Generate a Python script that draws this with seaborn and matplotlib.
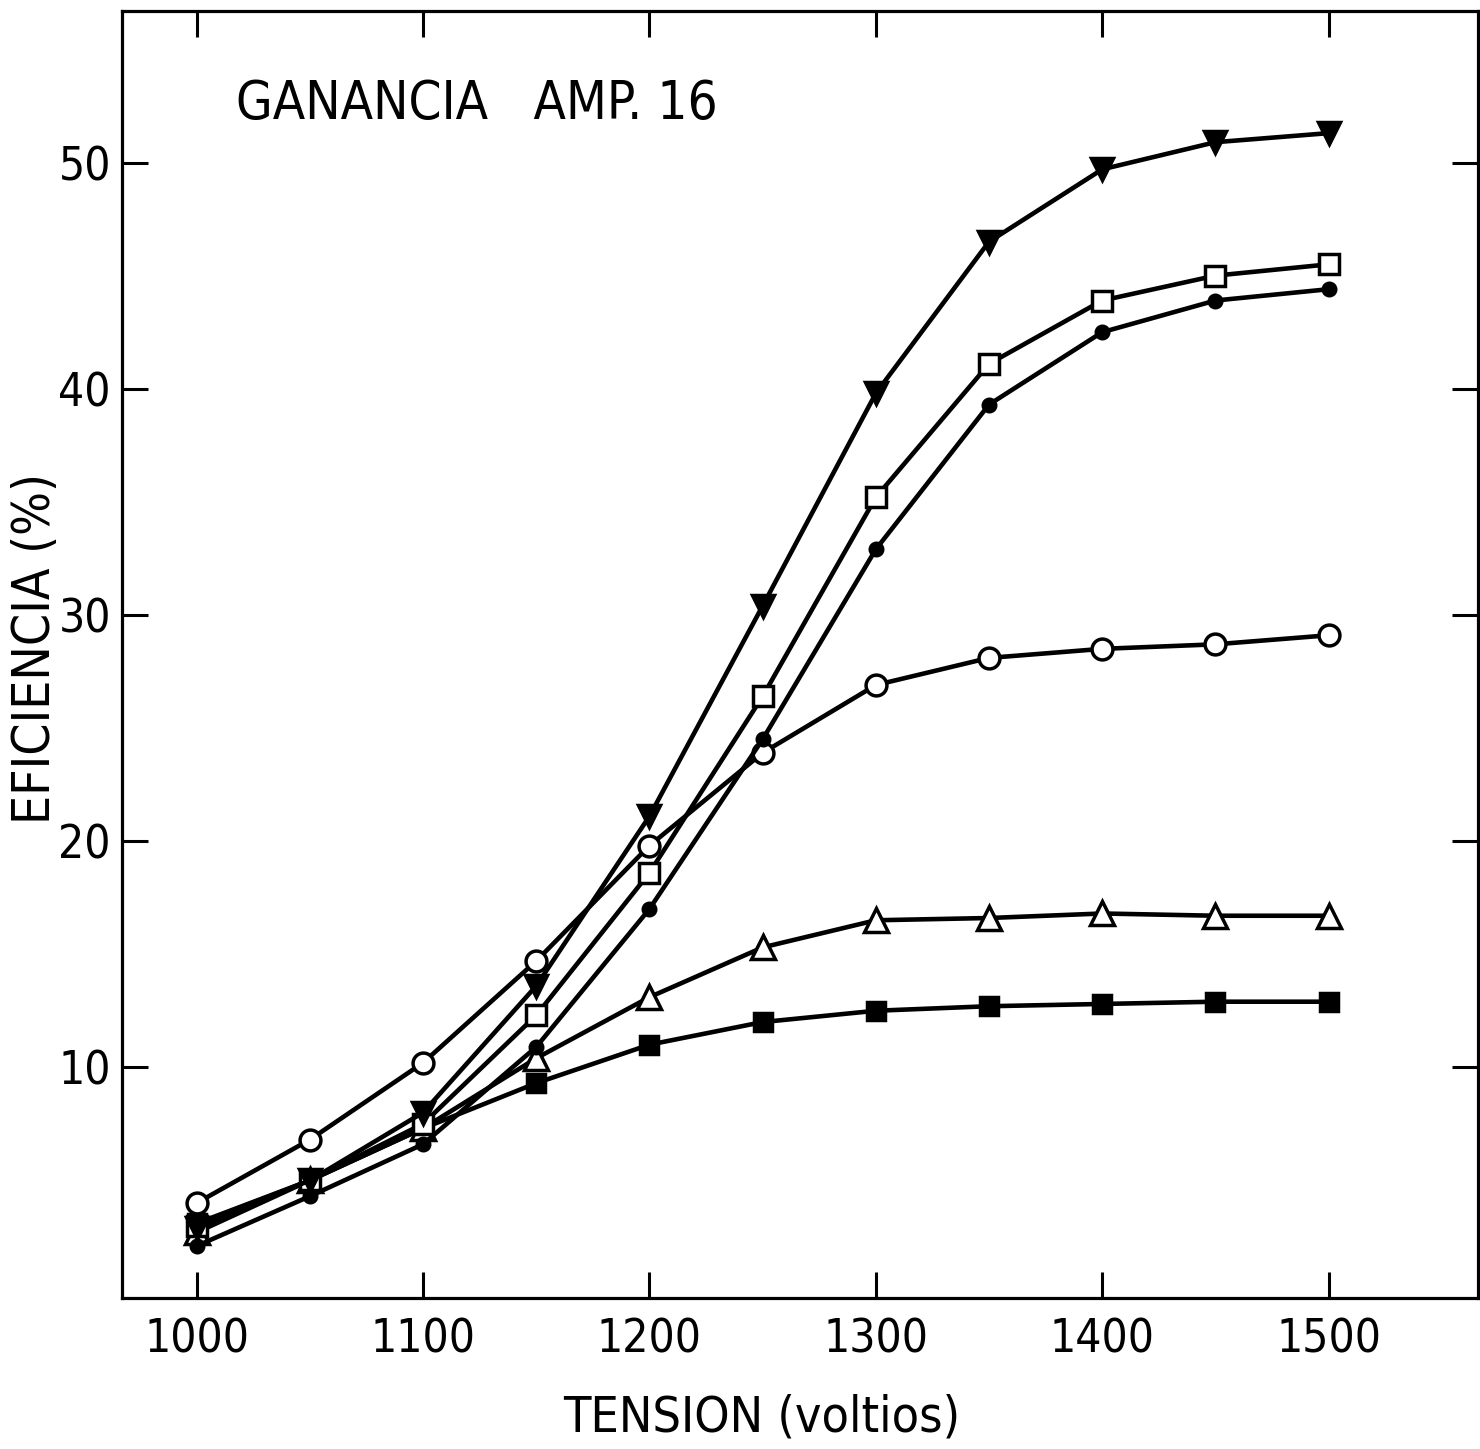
import matplotlib
matplotlib.use("Agg")
import matplotlib.pyplot as plt
import seaborn as sns
import pandas as pd

sns.set_theme(style="white")
plt.rcParams['font.family'] = ['DejaVu Sans']
plt.rcParams['font.stretch'] = 'condensed'
plt.rcParams['text.color'] = 'black'

tension = [1000, 1050, 1100, 1150, 1200, 1250, 1300, 1350, 1400, 1450, 1500]

tri_down_filled = [2.9, 5.0, 8.0, 13.6, 21.1, 30.4, 39.8, 46.5, 49.7, 50.9, 51.3]
square_open = [3.0, 5.0, 7.5, 12.3, 18.6, 26.4, 35.2, 41.1, 43.9, 45.0, 45.5]
dot_filled = [2.1, 4.3, 6.6, 10.9, 17.0, 24.5, 32.9, 39.3, 42.5, 43.9, 44.4]
circle_open = [4.0, 6.8, 10.2, 14.7, 19.8, 23.9, 26.9, 28.1, 28.5, 28.7, 29.1]
tri_up_open = [2.7, 5.0, 7.3, 10.4, 13.1, 15.3, 16.5, 16.6, 16.8, 16.7, 16.7]
square_filled = [3.1, 5.0, 7.3, 9.3, 11.0, 12.0, 12.5, 12.7, 12.8, 12.9, 12.9]

xticks = [1000, 1100, 1200, 1300, 1400, 1500]
yticks = [10, 20, 30, 40, 50]

series = [
    (square_filled, 's', 'black', 13),
    (tri_up_open, '^', 'white', 17),
    (circle_open, 'o', 'white', 15),
    (dot_filled, 'o', 'black', 9),
    (square_open, 's', 'white', 14),
    (tri_down_filled, 'v', 'black', 16),
]

fig = plt.figure(figsize=(14.8, 14.49), dpi=100)
ax = fig.add_axes([122/1480, 1 - 1298/1449, (1478-122)/1480, (1298-11)/1449])

for vals, mk, fc, ms in series:
    df = pd.DataFrame({'x': tension, 'y': vals})
    sns.lineplot(data=df, x='x', y='y', ax=ax, color='black', linewidth=3.3,
                 marker=mk, markersize=ms, markerfacecolor=fc,
                 markeredgecolor='black', markeredgewidth=2.5)

ax.set_xlim(967, 1566)
ax.set_ylim(-0.2, 56.7)
ax.set_xticks(xticks)
ax.set_yticks(yticks)
ax.set_xticklabels([str(t) for t in xticks])
ax.set_yticklabels([str(t) for t in yticks])
ax.tick_params(direction='in', length=19, width=2.2, colors='black',
               labelsize=33, labelcolor='black',
               top=True, right=True, bottom=True, left=True)
ax.tick_params(axis='x', pad=14)
ax.tick_params(axis='y', pad=8)
for s in ax.spines.values():
    s.set_visible(True)
    s.set_color('black')
    s.set_linewidth(2.3)

ax.set_xlabel('TENSION (voltios)', fontsize=36, color='black')
ax.xaxis.set_label_coords(0.472, -0.074)
ax.set_ylabel('EFICIENCIA (%)', fontsize=37, color='black')
ax.yaxis.set_label_coords(-0.045, 0.505)
ax.text(0.084, 0.928, 'GANANCIA   AMP. 16', transform=ax.transAxes,
        fontsize=38, ha='left', va='center', color='black')

fig.savefig('out.png', dpi=100, facecolor='white')
